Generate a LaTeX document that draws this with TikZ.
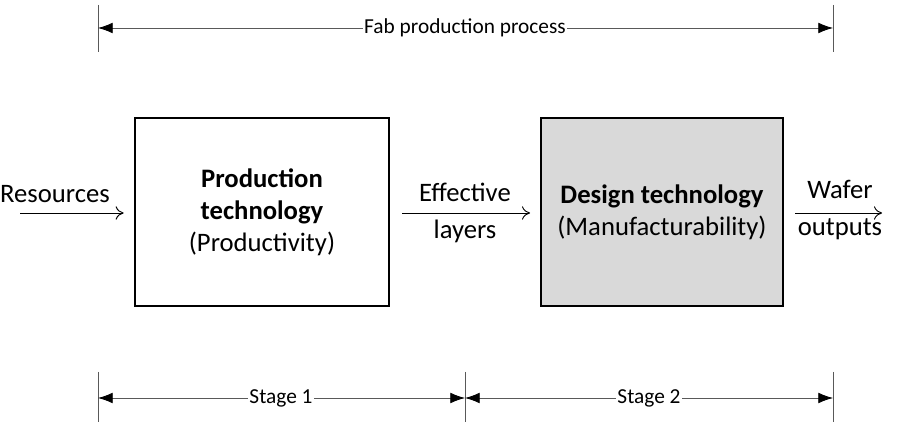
\documentclass[tikz,border=0pt]{standalone}
\usepackage{fontspec}
\setmainfont{Carlito}
\usetikzlibrary{arrows.meta}
\begin{document}
\begin{tikzpicture}[x=0.75pt,y=-0.75pt,
  box/.style={draw=black,line width=1pt,minimum height=141pt,inner sep=0pt,align=center,font=\fontsize{20}{24}\selectfont},
  dim/.style={draw=gray!70!black,line width=0.6pt,{Latex[length=11pt,width=8pt,color=black]}-{Latex[length=11pt,width=8pt,color=black]}},
  tick/.style={draw=gray!70!black,line width=0.6pt},
  lab/.style={fill=white,inner sep=1pt,font=\fontsize{16}{19}\selectfont},
  flow/.style={draw=black,line width=0.7pt,-{To[length=6pt,width=10pt]}},
  txt/.style={align=center,font=\fontsize{20}{24}\selectfont,inner sep=0pt}]
\useasboundingbox (0,0) rectangle (897,438);
\node[box,minimum width=190.5pt] (p) at (262,212) {\textbf{Production}\\\textbf{technology}\\(Productivity)};
\node[box,minimum width=181.5pt,fill=black!15] (d) at (662,212) {\textbf{Design technology}\\(Manufacturability)};
% top dimension
\coordinate (t1a) at (98,5); \coordinate (t1b) at (98,52);
\coordinate (t2a) at (833,5); \coordinate (t2b) at (833,52);
\draw[tick] (t1a) -- (t1b); \draw[tick] (t2a) -- (t2b);
\coordinate (tl) at (98,28); \coordinate (tr) at (833,28);
\draw[dim] (tl) -- (tr);
\node[lab] (fab) at (465,28) {Fab production process};
% bottom dimension
\coordinate (b1a) at (98,372); \coordinate (b1b) at (98,422);
\coordinate (b2a) at (465,372); \coordinate (b2b) at (465,422);
\coordinate (b3a) at (833,372); \coordinate (b3b) at (833,422);
\draw[tick] (b1a) -- (b1b); \draw[tick] (b2a) -- (b2b); \draw[tick] (b3a) -- (b3b);
\coordinate (bl) at (98,398); \coordinate (bm) at (465,398); \coordinate (br) at (833,398);
\draw[dim] (bl) -- (bm); \draw[dim] (bm) -- (br);
\node[lab] (s1) at (281,398) {Stage 1};
\node[lab] (s2) at (649,398) {Stage 2};
% flows
\node[txt] (res) at (55,194) {Resources};
\coordinate (r0) at (20,213);
\draw[flow] (r0) -- ([xshift=-8pt]p.west |- r0);
\node[txt,align=center] (eff) at (465,213) {Effective\\[4pt]layers};
\coordinate (e0) at (402,213); \coordinate (e1) at (530,213);
\draw[flow] (e0) -- (e1);
\node[txt] (waf) at (840,210) {Wafer\\[4pt]outputs};
\coordinate (w0) at (795,213); \coordinate (w1) at (882,213);
\draw[flow] (w0) -- (w1);
\end{tikzpicture}
\end{document}
